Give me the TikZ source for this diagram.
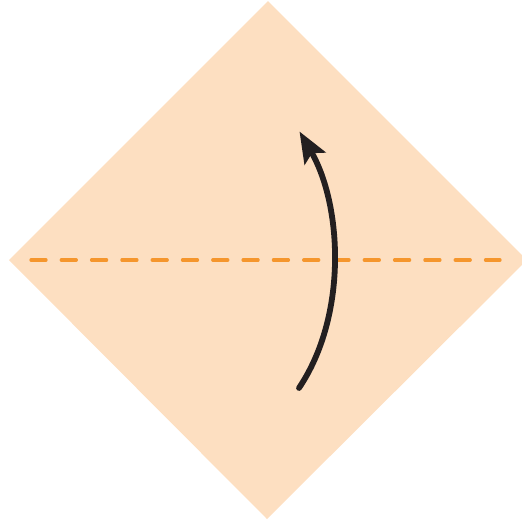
\documentclass[tikz,border=0pt]{standalone}
\usetikzlibrary{arrows.meta}
\definecolor{paper}{RGB}{253,223,193}
\definecolor{crease}{RGB}{245,150,45}
\definecolor{ink}{RGB}{35,31,32}
\begin{document}
\begin{tikzpicture}[x=1pt,y=-1pt,
  valley/.style={crease,line width=3.3pt,line cap=round,dash pattern=on 15pt off 15.3pt},
  foldarrow/.style={ink,line width=5.8pt,line cap=round,-{Stealth[length=31pt,width=24pt,inset=6pt]}}]
\useasboundingbox (0,0) rectangle (522,523);
\coordinate (T) at (268,1);
\coordinate (L) at (9,260);
\coordinate (R) at (527,260);
\coordinate (B) at (267,519);
\fill[paper] (T) -- (R) -- (B) -- (L) -- cycle;
\coordinate (d1) at (31,260);
\coordinate (d2) at (500,260);
\draw[valley] (d1) -- (d2);
\coordinate (a1) at (299,388);
\coordinate (a2) at (299.5,131.5);
\draw[foldarrow] (a1) .. controls (348,315) and (342,205) .. (a2);
\end{tikzpicture}
\end{document}
